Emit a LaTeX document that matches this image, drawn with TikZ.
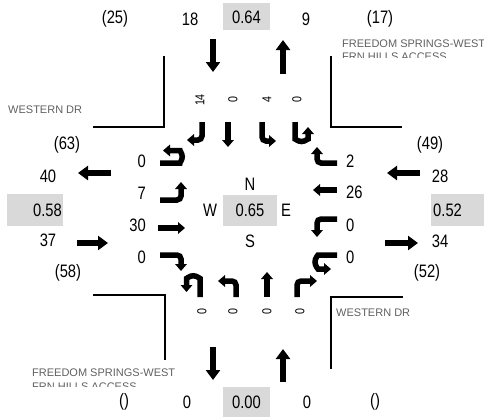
\documentclass[tikz,border=0pt]{standalone}
\usepackage{fontspec}
\setmainfont{Liberation Sans}
\newfontfamily\narrowsans{Liberation Sans}[FakeStretch=0.82]
\usetikzlibrary{arrows.meta}

\definecolor{boxgray}{RGB}{217,217,217}
\definecolor{roadgray}{RGB}{96,96,96}

\begin{document}
\begin{tikzpicture}[x=1pt,y=-1pt,
  lbl/.style={inner sep=0pt,font=\narrowsans\fontsize{18}{20}\selectfont},
  vol/.style={inner sep=0pt,rotate=90,font=\narrowsans\fontsize{13}{15}\selectfont},
  road/.style={inner sep=0pt,anchor=base west,text=roadgray,font=\fontsize{11}{13}\selectfont},
  curb/.style={line width=1.4pt},
  app/.style={line width=6.5pt,-{Triangle[length=10pt,width=14pt]}},
  mv/.style={line width=5.5pt,rounded corners=4pt,-{Triangle[length=7pt,width=11.5pt]}}]
  \useasboundingbox (0,0) rectangle (484,418);

  % peak hour factor boxes
  \fill[boxgray] (223,3) rectangle (270,30);
  \fill[boxgray] (223,387) rectangle (270,417);
  \fill[boxgray] (7,194) rectangle (63,226);
  \fill[boxgray] (431,194) rectangle (484,226);
  \fill[boxgray] (223,195) rectangle (277,226);

  % curb lines
  \draw[curb] (93,127) -- (164,127) -- (164,56);
  \draw[curb] (402,127) -- (331,127) -- (331,56);
  \draw[curb] (93,295) -- (165,295) -- (165,360);
  \draw[curb] (403,297) -- (331,297) -- (331,369);

  % street names
  \node[road] (wdrW) at (8,113) {WESTERN DR};
  \node[road] (wdrE) at (336,316) {WESTERN DR};
  \node[road] (fswN) at (342,47) {FREEDOM SPRINGS-WEST};
  \node[road] (fswS) at (32,376) {FREEDOM SPRINGS-WEST};
  \begin{scope}
    \clip (330,48) rectangle (484,57.5);
    \node[road] (fhaN) at (342,60) {FRN HILLS ACCESS};
  \end{scope}
  \begin{scope}
    \clip (20,377) rectangle (200,386.5);
    \node[road] (fhaS) at (32,390) {FRN HILLS ACCESS};
  \end{scope}

  % north approach
  \node[lbl] (nOutP) at (115,19) {(25)};
  \node[lbl] (nIn) at (190,19) {18};
  \node[lbl] (nPhf) at (246.5,17) {0.64};
  \node[lbl] (nOut) at (306,19) {9};
  \node[lbl] (nInP) at (380,19) {(17)};
  \draw[app] (213,39) -- (213,72);
  \draw[app] (283,74) -- (283,40);

  % south approach
  \node[lbl] (sOutP) at (124,402) {()};
  \node[lbl] (sOut) at (187,402) {0};
  \node[lbl] (sPhf) at (246.5,402) {0.00};
  \node[lbl] (sIn) at (307,402) {0};
  \node[lbl] (sInP) at (375,402) {()};
  \draw[app] (213,347) -- (213,380);
  \draw[app] (283,382) -- (283,349);

  % west approach
  \node[lbl] (wOutP) at (67,145) {(63)};
  \node[lbl] (wOut) at (48,176) {40};
  \node[lbl,anchor=east] (wPhf) at (62,210) {0.58};
  \node[lbl] (wIn) at (48,240) {37};
  \node[lbl] (wInP) at (68,273) {(58)};
  \draw[app] (111,173) -- (78,173);
  \draw[app] (77,243) -- (108,243);

  % east approach
  \node[lbl] (eInP) at (430,145) {(49)};
  \node[lbl] (eIn) at (440,176) {28};
  \node[lbl,anchor=west] (ePhf) at (433,210) {0.52};
  \node[lbl] (eOut) at (440,241) {34};
  \node[lbl] (eOutP) at (427,273) {(52)};
  \draw[app] (420,173) -- (387,173);
  \draw[app] (385,243) -- (418,243);

  % intersection
  \node[lbl] (compN) at (250,184) {N};
  \node[lbl] (compW) at (210,210) {W};
  \node[lbl] (ctrPhf) at (250,210) {0.65};
  \node[lbl] (compE) at (286,210) {E};
  \node[lbl] (compS) at (250,241) {S};

  % southbound movements
  \node[vol] (sbR) at (200,100) {14};
  \node[vol] (sbT) at (233,100) {0};
  \node[vol] (sbL) at (267,100) {4};
  \node[vol] (sbU) at (297,100) {0};
  \draw[mv] (202,122) -- (202,140) -- (187,140);
  \draw[mv] (228,122) -- (228,147);
  \draw[mv] (262,122) -- (262,141) -- (276,141);
  \draw[mv] (295,122) -- (295,135) arc[start angle=180,end angle=0,radius=6.5] -- (308,127);

  % northbound movements
  \node[vol] (nbU) at (202,312) {0};
  \node[vol] (nbL) at (233,312) {0};
  \node[vol] (nbT) at (267,312) {0};
  \node[vol] (nbR) at (300,312) {0};
  \draw[mv] (200,297) -- (200,282.5) arc[start angle=0,end angle=-180,radius=6.75] -- (186.5,292);
  \draw[mv] (236,297) -- (236,281) -- (218,281);
  \draw[mv] (267,297) -- (267,272);
  \draw[mv] (297,297) -- (297,281) -- (317,281);

  % eastbound movements
  \node[lbl,anchor=east] (ebU) at (146,161) {0};
  \node[lbl,anchor=east] (ebL) at (146,193) {7};
  \node[lbl,anchor=east] (ebT) at (146,225) {30};
  \node[lbl,anchor=east] (ebR) at (146,257) {0};
  \draw[mv] (160,163) -- (176,163) arc[start angle=90,end angle=-90,radius=6.25] -- (163,150.5);
  \draw[mv] (160,200) -- (181,200) -- (181,182);
  \draw[mv] (158,228) -- (185,228);
  \draw[mv] (160,255) -- (181,255) -- (181,271);

  % westbound movements
  \node[lbl,anchor=west] (wbR) at (346,161) {2};
  \node[lbl,anchor=west] (wbT) at (346,192) {26};
  \node[lbl,anchor=west] (wbL) at (346,225) {0};
  \node[lbl,anchor=west] (wbU) at (346,257) {0};
  \draw[mv] (337,163) -- (317,163) -- (317,147);
  \draw[mv] (337,190) -- (313,190);
  \draw[mv] (337,219) -- (317,219) -- (317,237);
  \draw[mv] (337,255) -- (322,255) arc[start angle=-90,end angle=-270,radius=7] -- (331,269);
\end{tikzpicture}
\end{document}
